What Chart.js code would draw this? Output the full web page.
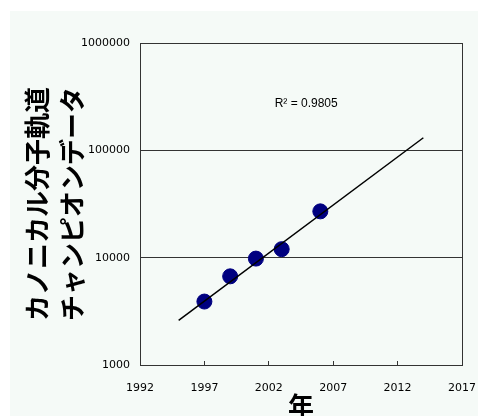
<!DOCTYPE html>
<html>
<head>
<meta charset="utf-8">
<script src="https://cdn.jsdelivr.net/npm/chart.js@4/dist/chart.umd.min.js"></script>
<style>
  html, body { margin: 0; padding: 0; background: #ffffff; }
  #wrap { width: 478px; height: 416px; position: relative; }
</style>
</head>
<body>
<div id="wrap"><canvas id="c" width="478" height="416"></canvas></div>
<script>
// ---- data ----
const years = [1997, 1999, 2001, 2003, 2006];
const values = [3900, 6700, 9800, 12000, 27000];
const trendYears = [1995, 2014];
const trendValues = [2600, 131000];
const xTicks = [1992, 1997, 2002, 2007, 2012, 2017];
const yTicks = [1000, 10000, 100000, 1000000];
const yTitleLines = ['カノニカル分子軌道', 'チャンピオンデータ'];
const xTitle = '年';
const r2Label = 'R² = 0.9805';
const r2Pos = { x: 2004.9, y: 270000 };

const bgPlugin = {
  id: 'bg',
  beforeDraw(chart) {
    const ctx = chart.ctx;
    ctx.save();
    ctx.fillStyle = '#f5faf7';
    ctx.fillRect(10, 11, chart.width - 10, chart.height - 11);
    ctx.restore();
  }
};

const r2Plugin = {
  id: 'r2',
  afterDatasetsDraw(chart) {
    const ctx = chart.ctx;
    const x = chart.scales.x.getPixelForValue(r2Pos.x);
    const y = chart.scales.y.getPixelForValue(r2Pos.y);
    ctx.save();
    ctx.font = '12px "Liberation Sans", Arial, sans-serif';
    ctx.fillStyle = '#000';
    ctx.textAlign = 'center';
    ctx.textBaseline = 'middle';
    ctx.fillText(r2Label, x, y);
    ctx.restore();
  }
};

new Chart(document.getElementById('c'), {
  type: 'scatter',
  data: {
    datasets: [
      {
        label: 'trend',
        data: trendYears.map((x, i) => ({ x, y: trendValues[i] })),
        showLine: true,
        borderColor: '#000',
        borderWidth: 1.5,
        pointRadius: 0,
        order: 0
      },
      {
        label: 'data',
        data: years.map((x, i) => ({ x, y: values[i] })),
        backgroundColor: '#000080',
        borderColor: '#000080',
        pointRadius: 7.5,
        order: 1
      }
    ]
  },
  options: {
    responsive: false,
    animation: false,
    events: [],
    layout: { padding: { top: 43, right: 16, left: 0, bottom: 0 } },
    plugins: { legend: { display: false }, tooltip: { enabled: false } },
    scales: {
      x: {
        type: 'linear',
        min: 1992,
        max: 2017,
        afterBuildTicks: (s) => { s.ticks = xTicks.map(v => ({ value: v })); },
        afterFit: (s) => { s.height = 51; s.paddingLeft = 0; s.paddingRight = 0; },
        grid: {
          color: (c) => (c.index === 0 || c.index === xTicks.length - 1) ? '#333' : 'rgba(0,0,0,0)',
          tickColor: '#333',
          tickLength: -4,
          lineWidth: 1
        },
        border: { display: true, color: '#333', width: 1 },
        ticks: {
          color: '#000',
          font: { family: '"DejaVu Sans", sans-serif', size: 11 },
          padding: 21,
          maxRotation: 0,
          autoSkip: false,
          callback: (v) => String(v)
        },
        title: {
          display: true,
          text: xTitle,
          color: '#000',
          font: { family: '"Noto Sans CJK JP", sans-serif', size: 26, weight: 'bold', lineHeight: 0.77 },
          padding: { top: 0, bottom: 0 }
        }
      },
      y: {
        type: 'logarithmic',
        min: 1000,
        max: 1000000,
        afterBuildTicks: (s) => { s.ticks = yTicks.map(v => ({ value: v })); },
        afterFit: (s) => { s.width = 140; s.paddingTop = 0; s.paddingBottom = 0; },
        grid: { color: '#333', drawTicks: false, lineWidth: 1 },
        border: { display: true, color: '#333', width: 1 },
        ticks: {
          color: '#000',
          font: { family: '"DejaVu Sans", sans-serif', size: 11 },
          padding: 10,
          autoSkip: false,
          callback: (v) => String(v)
        },
        title: {
          display: true,
          text: yTitleLines,
          color: '#000',
          font: { family: '"Noto Sans CJK JP", sans-serif', size: 26, weight: 'bold', lineHeight: 1.35 },
          padding: { top: 19.5, bottom: 0 }
        }
      }
    }
  },
  plugins: [bgPlugin, r2Plugin]
});
</script>
</body>
</html>
